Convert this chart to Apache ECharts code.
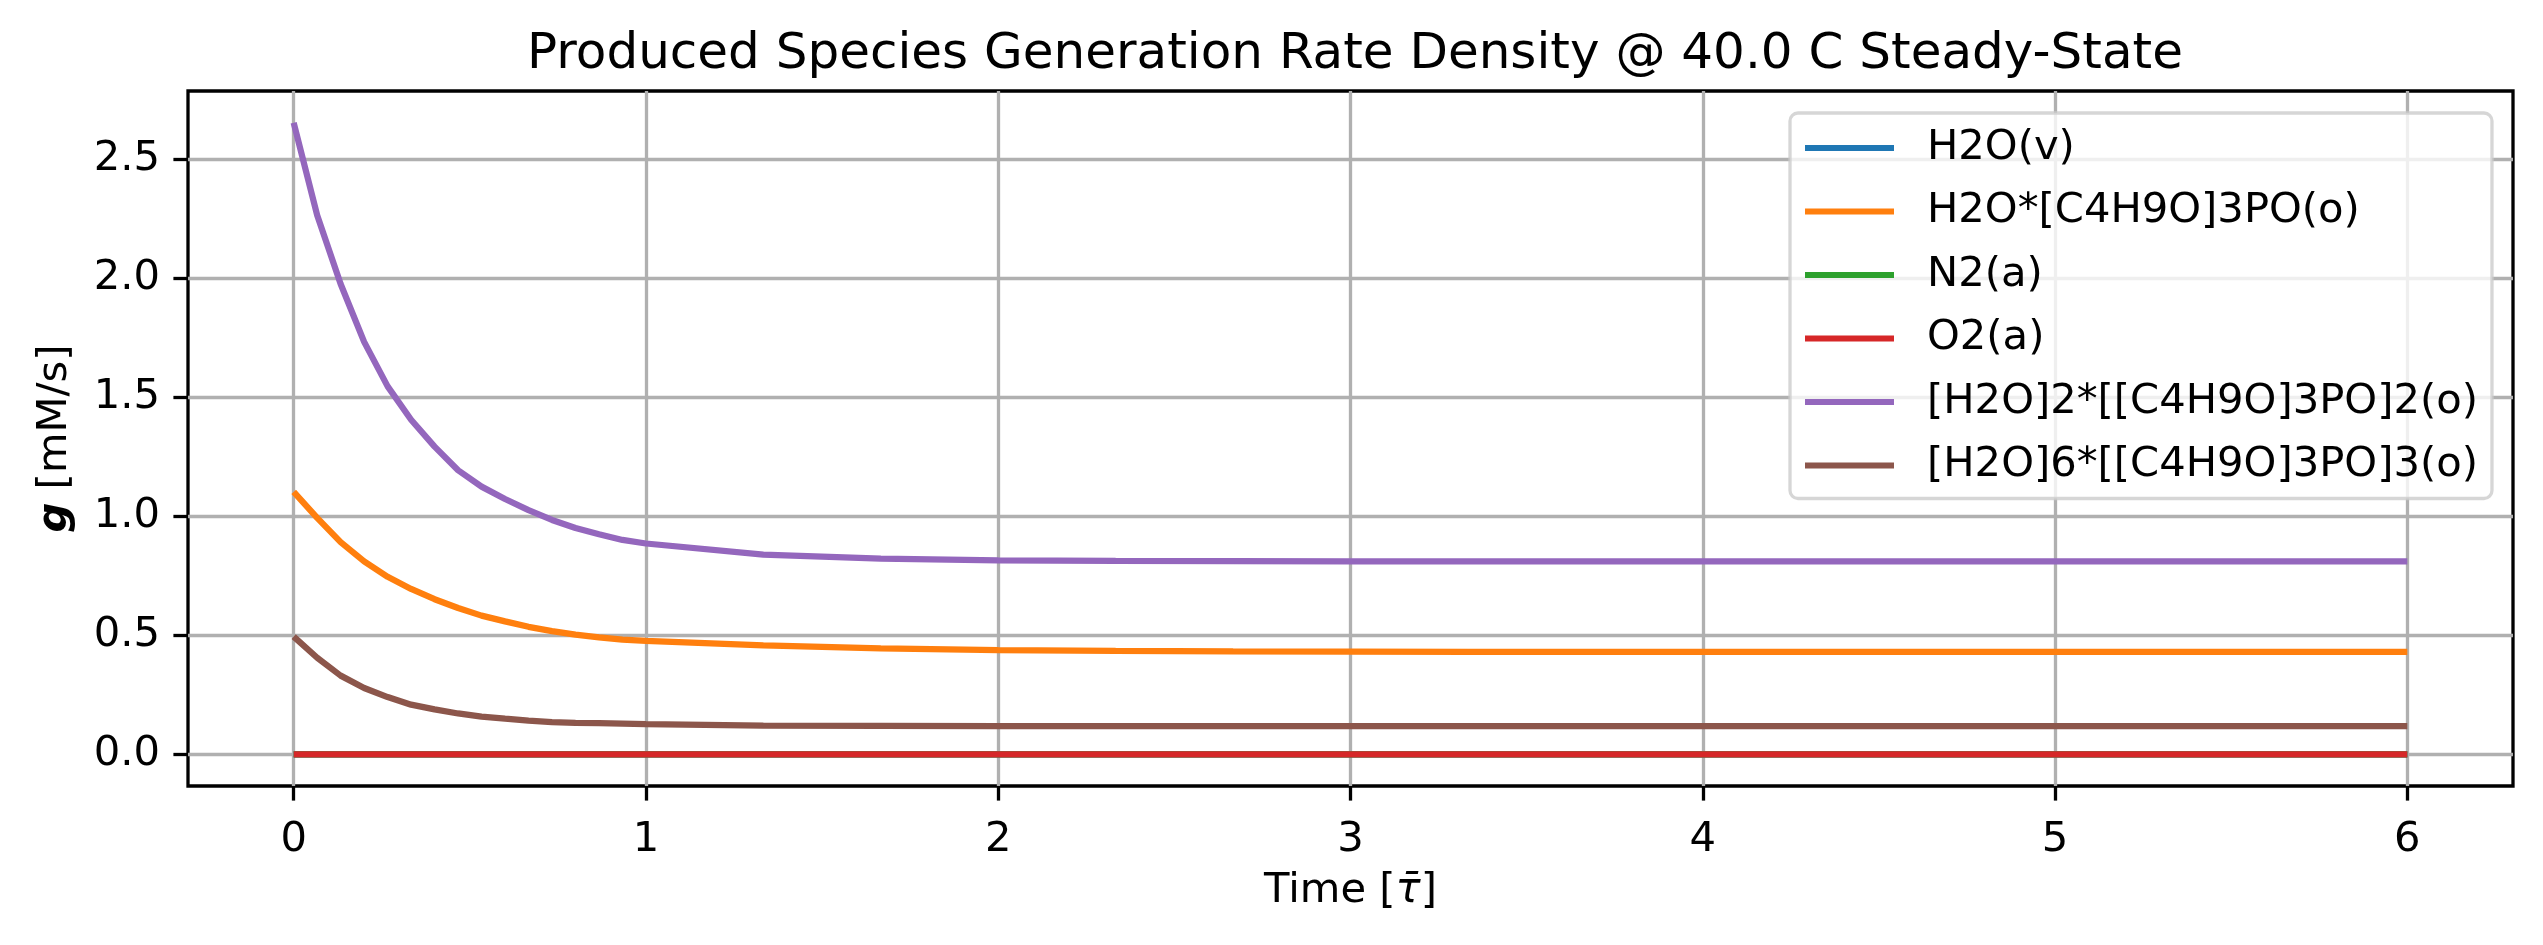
<!DOCTYPE html>
<html>
<head>
<meta charset="utf-8">
<title>Produced Species Generation Rate Density</title>
<script src="https://cdn.jsdelivr.net/npm/echarts@6/dist/echarts.min.js"></script>
<style>
  html, body { margin: 0; padding: 0; background: #fff; }
  #chart { width: 2543px; height: 945px; }
</style>
</head>
<body>
<div id="chart"></div>
<script>
// time points [tau bar]
const times = [0, 0.0667, 0.1333, 0.2, 0.2667, 0.3333, 0.4, 0.4667, 0.5333, 0.6, 0.6667,
  0.7333, 0.8, 0.8667, 0.9333, 1, 1.3333, 1.6667, 2, 2.3333, 2.6667, 3, 3.3333, 3.6667,
  4, 4.3333, 4.6667, 5, 5.3333, 5.6667, 6]

const h2oV = [0, 0, 0, 0, 0, 0, 0, 0, 0, 0, 0, 0, 0, 0, 0, 0, 0, 0, 0, 0, 0, 0, 0, 0, 0, 0, 0, 0, 0, 0, 0]
const h2oTbp = [1.103, 0.994, 0.892, 0.811, 0.746, 0.695, 0.652, 0.615, 0.583, 0.559, 0.536,
  0.518, 0.503, 0.492, 0.482, 0.477, 0.458, 0.445, 0.438, 0.435, 0.433, 0.432, 0.431, 0.431,
  0.431, 0.431, 0.431, 0.431, 0.431, 0.431, 0.431]
const n2A = [0, 0, 0, 0, 0, 0, 0, 0, 0, 0, 0, 0, 0, 0, 0, 0, 0, 0, 0, 0, 0, 0, 0, 0, 0, 0, 0, 0, 0, 0, 0]
const o2A = [0, 0, 0, 0, 0, 0, 0, 0, 0, 0, 0, 0, 0, 0, 0, 0, 0, 0, 0, 0, 0, 0, 0, 0, 0, 0, 0, 0, 0, 0, 0]
const dimer = [2.654, 2.265, 1.976, 1.733, 1.546, 1.406, 1.293, 1.194, 1.125, 1.073, 1.026,
  0.985, 0.951, 0.925, 0.901, 0.886, 0.839, 0.822, 0.815, 0.813, 0.812, 0.811, 0.811, 0.811,
  0.811, 0.811, 0.811, 0.811, 0.811, 0.811, 0.811]
const trimer = [0.495, 0.406, 0.331, 0.279, 0.241, 0.209, 0.189, 0.172, 0.159, 0.150, 0.142,
  0.136, 0.133, 0.131, 0.129, 0.127, 0.121, 0.120, 0.119, 0.119, 0.119, 0.119, 0.119, 0.119,
  0.119, 0.119, 0.119, 0.119, 0.119, 0.119, 0.119]

const seriesNames = ['H2O(v)', 'H2O*[C4H9O]3PO(o)', 'N2(a)', 'O2(a)',
  '[H2O]2*[[C4H9O]3PO]2(o)', '[H2O]6*[[C4H9O]3PO]3(o)']
const seriesValues = [h2oV, h2oTbp, n2A, o2A, dimer, trimer]
const colors = ['#1f77b4', '#ff7f0e', '#2ca02c', '#d62728', '#9467bd', '#8c564b']

const xTicks = [0, 1, 2, 3, 4, 5, 6]
const yTicks = [0, 0.5, 1, 1.5, 2, 2.5]

const font = 'DejaVu Sans'
const fs = 41.7
const lw = 3.3

const chart = echarts.init(document.getElementById('chart'), null, { renderer: 'canvas' })

const series = seriesNames.map((name, i) => ({
  name: name,
  type: 'line',
  showSymbol: false,
  symbol: 'none',
  data: times.map((t, j) => [t, seriesValues[i][j]]),
  lineStyle: { color: colors[i], width: 6.25 },
  itemStyle: { color: colors[i] },
  z: 3
}))

chart.setOption({
  animation: false,
  backgroundColor: '#fff',
  color: colors,
  title: {
    text: 'Produced Species Generation Rate Density @ 40.0 C Steady-State',
    left: 1350,
    textAlign: 'center',
    top: 25,
    textStyle: { fontFamily: font, fontSize: 50, fontWeight: 'normal', color: '#000' }
  },
  legend: {
    orient: 'vertical',
    left: 1790,
    top: 113,
    padding: [14, 14, 12, 15],
    itemWidth: 89,
    itemHeight: 6,
    itemGap: 21.5,
    icon: 'rect',
    backgroundColor: 'rgba(255,255,255,0.8)',
    borderColor: 'rgba(204,204,204,0.8)',
    borderWidth: lw,
    borderRadius: 8,
    textStyle: {
      fontFamily: font,
      fontSize: fs,
      lineHeight: 42,
      color: '#000',
      padding: [0, 0, 0, 28]
    },
    data: seriesNames
  },
  grid: {
    left: 188,
    right: 30,
    top: 91,
    bottom: 159,
    show: true,
    borderColor: '#000',
    borderWidth: lw,
    backgroundColor: 'transparent'
  },
  xAxis: {
    type: 'value',
    min: -0.3,
    max: 6.3,
    name: 'Time [{i|τ̄}]',
    nameLocation: 'middle',
    nameGap: 84,
    nameTextStyle: {
      fontFamily: font, fontSize: fs, color: '#000',
      rich: { i: { fontFamily: font, fontSize: fs, fontStyle: 'italic', color: '#000' } }
    },
    axisLine: { show: false, onZero: false },
    axisTick: { show: true, inside: false, length: 14.6, customValues: xTicks, lineStyle: { color: '#000', width: lw } },
    axisLabel: { customValues: xTicks, margin: 33, fontFamily: font, fontSize: fs, color: '#000' },
    splitLine: { show: true, lineStyle: { color: '#b0b0b0', width: lw } }
  },
  yAxis: {
    type: 'value',
    min: -0.1327,
    max: 2.787,
    name: '{b|g} [mM/s]',
    nameLocation: 'middle',
    nameRotate: 90,
    nameGap: 112,
    nameTextStyle: {
      fontFamily: font, fontSize: fs, color: '#000',
      rich: { b: { fontFamily: font, fontSize: fs, fontWeight: 'bold', fontStyle: 'italic', color: '#000' } }
    },
    axisLine: { show: false, onZero: false },
    axisTick: { show: true, inside: false, length: 14.6, customValues: yTicks, lineStyle: { color: '#000', width: lw } },
    axisLabel: {
      customValues: yTicks,
      margin: 28,
      fontFamily: font,
      fontSize: fs,
      color: '#000',
      formatter: v => Number(v).toFixed(1)
    },
    splitLine: { show: true, lineStyle: { color: '#b0b0b0', width: lw } }
  },
  series: series
})
</script>
</body>
</html>
